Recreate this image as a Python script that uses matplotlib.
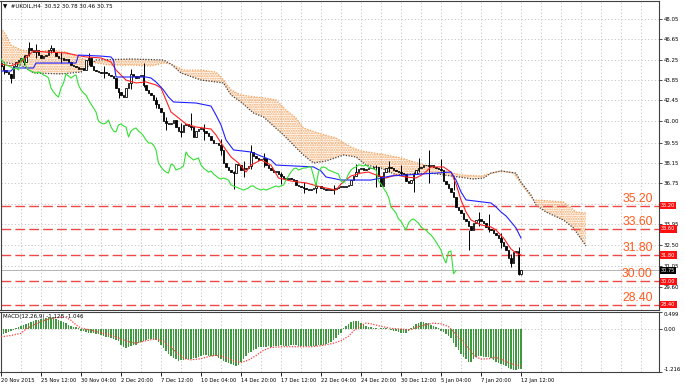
import matplotlib
matplotlib.use("Agg")
import matplotlib.pyplot as plt
import matplotlib.transforms as mtransforms
from matplotlib.patches import Polygon
import numpy as np

# ---- price data (H4 closes) ----
first_open = 45.00
closes = [
    44.82, 44.54, 44.40, 44.27, 43.99, 44.82, 45.09, 45.23, 45.37, 45.09,
    45.57, 46.05, 45.92, 45.78, 45.92, 45.57, 45.37, 45.50, 45.57, 45.92,
    46.05, 45.78, 45.50, 45.37, 45.37, 45.23,
    45.30, 45.09, 44.88, 44.82, 44.75, 44.61, 44.68, 44.54, 45.23, 45.37,
    44.82, 44.54, 44.47, 44.40, 44.34, 44.40, 44.34, 44.20, 44.13, 43.99,
    43.30, 43.03, 42.82, 42.68, 43.30, 43.65, 44.27, 44.13, 43.99, 44.13,
    44.20, 43.51, 43.17, 42.96, 42.82, 42.48, 42.20, 41.93, 41.65, 41.03,
    40.89, 40.83, 40.89, 41.10, 40.62, 40.34, 40.28, 40.76, 40.83, 40.69,
    40.62, 39.93, 40.34, 40.48, 40.55, 40.34, 40.21, 40.00, 39.73, 39.52,
    39.52, 39.38, 39.04, 38.14, 37.87, 37.66, 37.52, 37.45, 38.07, 38.00,
    37.66, 37.73, 37.80, 37.94, 38.90, 38.62, 38.49, 38.35, 38.42, 38.49,
    38.00, 37.80, 37.66, 37.52, 37.59, 37.39, 37.25, 37.11, 37.04, 37.11,
    37.04, 36.97, 36.63, 36.56, 36.49, 36.42, 36.35, 36.28, 36.35, 36.42,
    36.56, 36.56, 36.42, 36.35, 36.28, 36.35, 36.28, 36.35, 36.42, 36.49,
    36.56, 36.49, 36.56, 36.63, 36.97, 37.25, 37.52, 37.73, 37.80, 37.66,
    37.73, 37.80, 37.80, 37.87, 37.87, 37.25, 36.56, 37.52, 37.80, 37.87,
    37.80, 37.66, 37.59, 37.52, 37.45, 37.39, 36.90, 36.77, 36.97, 37.39,
    37.66, 37.80, 37.87, 38.00, 38.00, 37.94, 38.00, 37.87, 37.80, 37.73,
    37.66, 36.90, 36.70, 36.42, 36.15, 35.80, 35.12, 34.91, 34.70, 34.29,
    34.15, 33.81, 33.53, 34.01, 34.22, 34.29, 34.15, 34.01, 33.74, 33.60,
    33.53, 33.33, 33.19, 32.98, 32.71, 32.43, 32.16, 31.61, 31.26, 32.02,
    32.09, 30.52, 30.75,
]
# wicks that stand out: bar -> (high, low)
wicks = {
    1: (45.10, 44.30), 4: (44.30, 43.65), 9: (45.60, 44.90), 11: (46.47, 45.50),
    14: (46.30, 45.40), 20: (46.26, 45.70), 24: (45.80, 45.00), 35: (45.70, 44.90),
    41: (44.80, 44.00), 47: (43.10, 42.61), 52: (44.60, 43.20), 57: (45.02, 43.40),
    62: (42.70, 41.90), 66: (41.30, 40.40), 72: (40.90, 39.90), 76: (41.58, 40.40),
    81: (40.80, 39.70), 88: (39.80, 38.70), 93: (37.60, 36.35), 97: (38.30, 37.20),
    100: (39.38, 37.70), 105: (38.80, 37.90), 112: (37.50, 36.70), 121: (36.80, 36.10),
    126: (36.80, 36.10), 133: (36.60, 36.00), 142: (38.10, 37.40), 150: (38.00, 36.50),
    155: (38.30, 37.50), 160: (38.00, 37.30), 165: (37.50, 36.15), 167: (38.49, 37.50),
    171: (39.04, 36.77), 176: (38.40, 37.60), 181: (37.20, 36.30), 187: (33.50, 32.16),
    191: (34.80, 33.80), 195: (34.60, 33.40), 200: (33.30, 32.30), 204: (31.90, 31.00),
    207: (32.36, 30.46), 208: (30.78, 30.46),
}

# ---- Ichimoku lines (bar index, price) ----
tenkan_x = [0, 4, 8, 13, 18, 26, 30, 34, 40, 44, 46, 50, 54, 58, 62, 64, 66, 68, 70, 74,
            78, 84, 86, 88, 90, 92, 95, 98, 100, 104, 108, 111, 116, 122, 128, 134, 136,
            140, 144, 147, 150, 154, 158, 162, 166, 169, 172, 177, 180, 182, 184, 186,
            188, 192, 196, 198, 201, 204, 206, 208]
tenkan_y = [44.95, 44.82, 45.09, 45.85, 45.78, 45.71, 45.57, 45.44, 45.37, 45.09, 44.54,
            43.85, 43.65, 43.72, 43.51, 43.30, 42.48, 41.65, 41.38, 40.83, 40.62, 40.48,
            40.07, 39.52, 39.04, 38.56, 38.14, 37.52, 38.00, 38.35, 38.00, 37.11, 36.90,
            36.77, 36.49, 36.28, 36.70, 37.25, 37.45, 37.52, 37.32, 37.11, 37.32, 37.18,
            37.11, 37.39, 37.87, 37.87, 37.52, 36.70, 35.60, 34.77, 34.22, 33.88, 33.74,
            33.53, 32.98, 32.22, 31.95, 31.81]
kijun_x = [0, 4, 5, 13, 14, 30, 31, 40, 44, 45, 46, 58, 60, 62, 65, 67, 69, 78, 84, 86,
           88, 90, 93, 100, 104, 108, 110, 125, 128, 130, 136, 148, 156, 169, 180, 182,
           184, 186, 196, 198, 200, 202, 204, 206, 208]
kijun_y = [44.47, 44.47, 44.68, 44.68, 45.02, 45.02, 45.57, 45.50, 45.44, 45.23, 44.06,
           44.06, 43.99, 43.72, 43.17, 42.68, 42.34, 42.27, 42.06, 41.44, 40.76, 39.73,
           39.04, 38.90, 38.62, 38.35, 38.00, 37.87, 37.59, 37.18, 36.97, 36.97, 37.25,
           37.39, 37.52, 36.97, 36.15, 35.60, 35.39, 35.12, 34.77, 34.50, 34.09, 33.67,
           32.98]
span_a_x = [0, 2, 4, 8, 14, 20, 26, 32, 38, 44, 52, 60, 65, 68, 73, 80, 86, 89, 92, 96,
            102, 106, 110, 114, 118, 121, 128, 134, 140, 144, 152, 160, 168, 176, 184,
            192, 200, 205, 209, 212, 213, 220, 225, 230, 234]
span_a_y = [47.43, 46.95, 46.26, 45.92, 45.78, 45.92, 45.78, 45.37, 45.02, 44.88, 44.88,
            44.82, 45.02, 44.95, 44.54, 44.54, 44.40, 43.85, 43.17, 42.82, 42.68, 42.61,
            42.48, 41.79, 41.24, 40.55, 40.14, 39.86, 39.24, 38.97, 38.76, 38.49, 38.07,
            37.66, 37.32, 37.25, 37.59, 37.45, 36.49, 35.80, 35.60, 35.53, 35.46, 34.77,
            34.70]
span_b_x = [0, 8, 13, 24, 32, 38, 52, 65, 68, 72, 80, 89, 92, 96, 101, 105, 113, 121,
            125, 130, 137, 142, 146, 152, 158, 172, 180, 189, 193, 196, 200, 206, 208,
            212, 214, 218, 225, 229, 234]
span_b_y = [45.09, 44.88, 44.34, 44.27, 44.40, 45.23, 45.30, 45.23, 44.95, 44.34, 43.85,
            43.65, 42.82, 42.34, 41.58, 41.31, 40.07, 38.69, 38.14, 38.28, 38.69, 38.56,
            38.00, 37.80, 37.32, 37.45, 37.25, 37.04, 37.11, 37.45, 37.59, 37.45, 36.83,
            35.94, 35.25, 34.77, 34.22, 33.67, 32.43]

# ---- MACD(12,26,9) ----
macd = [
    -0.15, -0.13, -0.11, -0.09, -0.06, -0.02, 0.03, 0.06, 0.08, 0.12,
    0.15, 0.18, 0.21, 0.24, 0.25, 0.27, 0.28, 0.30, 0.32, 0.33,
    0.31, 0.33, 0.30, 0.27, 0.24, 0.20, 0.17, 0.13, 0.10, 0.07,
    0.05, 0.02, -0.04, -0.06, -0.08, -0.10, -0.11, -0.12, -0.14, -0.15,
    -0.17, -0.19, -0.21, -0.23, -0.25, -0.27, -0.30, -0.33, -0.45, -0.52,
    -0.54, -0.50, -0.47, -0.46, -0.44, -0.40, -0.36, -0.33, -0.30, -0.28,
    -0.27, -0.28, -0.30, -0.36, -0.45, -0.54, -0.62, -0.70, -0.76, -0.82,
    -0.86, -0.90, -0.89, -0.87, -0.86, -0.85, -0.84, -0.82, -0.81, -0.80,
    -0.76, -0.74, -0.74, -0.75, -0.75, -0.76, -0.77, -0.82, -0.86, -0.90,
    -0.94, -0.97, -1.00, -1.03, -1.05, -1.02, -0.92, -0.85, -0.76, -0.68,
    -0.64, -0.60, -0.55, -0.52, -0.51, -0.50, -0.51, -0.49, -0.50, -0.48,
    -0.47, -0.47, -0.46, -0.47, -0.48, -0.47, -0.46, -0.45, -0.46, -0.47,
    -0.48, -0.48, -0.47, -0.48, -0.49, -0.48, -0.47, -0.46, -0.45, -0.44,
    -0.42, -0.40, -0.37, -0.30, -0.24, -0.17, -0.10, 0.02, 0.10, 0.15,
    0.19, 0.22, 0.24, 0.23, 0.18, 0.14, 0.10, 0.07, 0.05, 0.03,
    0.02, 0.01, 0.02, 0.03, 0.02, 0.01, -0.02, -0.04, -0.06, -0.08,
    -0.10, -0.12, -0.10, -0.05, 0.02, 0.08, 0.14, 0.18, 0.20, 0.19,
    0.17, 0.16, 0.12, 0.10, 0.07, 0.04, -0.04, -0.09, -0.14, -0.20,
    -0.25, -0.40, -0.50, -0.60, -0.70, -0.78, -0.85, -0.92, -0.92, -0.85,
    -0.80, -0.77, -0.76, -0.78, -0.79, -0.80, -0.83, -0.88, -0.92, -0.95,
    -0.98, -1.02, -1.06, -1.10, -1.14, -1.16, -1.15, -1.13, -1.128,
]
signal_x = [0, 4, 8, 10, 13, 16, 20, 24, 26, 28, 30, 32, 36, 40, 44, 48, 51, 54, 56, 60,
            62, 65, 68, 71, 74, 76, 80, 83, 86, 90, 93, 96, 99, 102, 105, 108, 112, 120,
            124, 128, 133, 136, 139, 141, 144, 146, 148, 152, 156, 160, 164, 166, 170,
            173, 176, 179, 181, 184, 187, 189, 192, 195, 198, 201, 204, 206, 208]
signal_y = [-0.22, -0.18, -0.12, 0.0, 0.12, 0.22, 0.30, 0.34, 0.33, 0.25, 0.12, 0.03,
            -0.03, -0.10, -0.18, -0.28, -0.36, -0.40, -0.36, -0.30, -0.28, -0.35, -0.52,
            -0.72, -0.85, -0.87, -0.84, -0.78, -0.74, -0.80, -0.90, -0.95, -0.88, -0.75,
            -0.60, -0.52, -0.50, -0.50, -0.50, -0.47, -0.40, -0.33, -0.20, -0.05, 0.10,
            0.17, 0.15, 0.08, 0.02, 0.0, -0.02, 0.05, 0.13, 0.17, 0.15, 0.07, -0.08,
            -0.30, -0.55, -0.75, -0.85, -0.84, -0.80, -0.88, -0.98, -1.02, -1.046]

levels = [35.20, 33.60, 31.80, 30.00, 28.40]
# 35.35 sits under the 35.20 tag in the reference, so it only gets a grid line
price_ticks = [48.05, 46.65, 45.25, 43.85, 42.45, 41.00, 39.55, 38.15, 36.75,
               33.95, 32.50, 31.05, 29.60]
hidden_grid = [35.35]
date_labels = ["20 Nov 2015", "25 Nov 12:00", "30 Nov 04:00", "2 Dec 20:00", "7 Dec 12:00",
               "10 Dec 04:00", "14 Dec 20:00", "17 Dec 12:00", "22 Dec 04:00",
               "24 Dec 20:00", "30 Dec 12:00", "5 Jan 04:00", "7 Jan 20:00", "12 Jan 12:00"]
last_price = 30.75

plt.rcParams['font.family'] = ['DejaVu Sans']
plt.rcParams['hatch.linewidth'] = 1.0

W, H = 685, 387
fig = plt.figure(figsize=(W / 100, H / 100), dpi=100)
fig.patch.set_facecolor('white')

ax = fig.add_axes([0.5 / W, 1 - 309.5 / H, 658.5 / W, 308.5 / H])
ax2 = fig.add_axes([0.5 / W, 1 - 372 / H, 658.5 / W, 60.5 / H], sharex=ax)

bars = np.arange(len(closes))
closes = np.array(closes)
opens = np.concatenate([[first_open], closes[:-1]])
opens[-1] = 30.52

major_ticks = np.arange(0, 16 * len(date_labels), 16)
minor_ticks = np.arange(8, 264, 16)
grid_kw = dict(color='#c0c0c0', ls=(0, (1.5, 2.5)), lw=0.6)

# grid
for a in (ax, ax2):
    a.set_xticks(major_ticks)
    a.set_xticks(minor_ticks, minor=True)
    a.grid(True, which='both', **grid_kw)
    a.set_axisbelow(True)
    for s in a.spines.values():
        s.set_color('#404040')
        s.set_linewidth(0.8)
for xg in range(major_ticks[-1] + 16, 264, 16):
    for a in (ax, ax2):
        a.axvline(xg, zorder=0, **grid_kw)
for yg in hidden_grid:
    ax.axhline(yg, zorder=0, **grid_kw)

# cloud
cloud = Polygon(list(zip(span_a_x, span_a_y)) + list(zip(span_b_x, span_b_y))[::-1],
                closed=True, facecolor='none', edgecolor='#f4a460', hatch='.......',
                lw=0, zorder=1)
ax.add_patch(cloud)
ax.plot(span_a_x, span_a_y, color='#f4a460', ls=(0, (1, 1.2)), lw=0.9, zorder=2)
ax.plot(span_b_x, span_b_y, color='#404040', ls=(0, (1, 1.2)), lw=0.9, zorder=2)

# support / resistance levels
blend = mtransforms.blended_transform_factory(ax.transAxes, ax.transData)
for lv in levels:
    ax.axhline(lv, color='#f04848', lw=1.0, dashes=(7, 3), zorder=2)
    ax.text(0.9905, lv + 0.06, f"{lv:.2f}", transform=blend, ha='right', va='bottom',
            fontsize=8.8, color='#ff5a1e', family='Liberation Sans', zorder=5)
    ax.text(1.003, lv, f"{lv:.2f}", transform=blend, ha='left', va='center',
            fontsize=3.6, color='white', clip_on=False, zorder=6,
            bbox=dict(boxstyle='square,pad=0.25', fc='#ff1010', ec='none'))
ax.axhline(last_price, color='#a8a8a8', lw=0.6, zorder=2)
ax.text(1.003, last_price, f"{last_price:.2f}", transform=blend, ha='left', va='center',
        fontsize=3.6, color='white', clip_on=False, zorder=6,
        bbox=dict(boxstyle='square,pad=0.25', fc='black', ec='none'))

# candles
for b, (hi, lo) in wicks.items():
    ax.vlines(b, lo, hi, color='black', lw=0.7, zorder=3)
bull = closes >= opens
body_lo = np.minimum(opens, closes)
body_h = np.abs(closes - opens)
ax.bar(bars, body_h, bottom=body_lo, width=0.75,
       color=np.where(bull, 'white', 'black'), edgecolor='black', lw=0.6, zorder=3)

# ichimoku lines
ax.plot(tenkan_x, tenkan_y, color='#ff2020', lw=0.8, zorder=4)
ax.plot(kijun_x, kijun_y, color='#2020ff', lw=0.8, zorder=4)
ax.plot(bars[26:] - 26, closes[26:], color='#33e033', lw=0.8, zorder=4)

ax.set_xlim(-0.2, 263.2)
ax.set_ylim(28.06, 49.29)
ax.yaxis.tick_right()
ax.set_yticks(price_ticks)
ax.set_yticklabels([f"{t:.2f}" for t in price_ticks])
ax.tick_params(axis='y', labelsize=3.9, length=2, pad=1.5, width=0.5, colors='black')
ax.tick_params(axis='x', which='both', length=0, labelbottom=False)

ax.text(0.004, 0.993, "\u25bc  #UKOIL,H4  30.52 30.78 30.46 30.75", transform=ax.transAxes,
        ha='left', va='top', fontsize=4.0, color='black', zorder=7)

# MACD panel
ax2.bar(bars, macd, width=0.45, color='#3f9a3f', zorder=2)
ax2.plot(signal_x, signal_y, color='#ff3c3c', ls=(0, (1, 1.2)), lw=0.9, zorder=3)
ax2.set_ylim(-1.216, 0.499)
ax2.yaxis.tick_right()
ax2.set_yticks([0.499, 0.0, -1.216])
ax2.set_yticklabels(["0.499", "0.00", "-1.216"])
ax2.tick_params(axis='y', labelsize=3.9, length=2, pad=1.5, width=0.5)
tl = ax2.get_yticklabels()
tl[0].set_va('top')
tl[2].set_va('bottom')
ax2.set_xticklabels(date_labels, ha='left')
ax2.tick_params(axis='x', which='major', labelsize=3.75, length=3, pad=1.5, width=0.6)
ax2.tick_params(axis='x', which='minor', length=0)
ax2.text(0.004, 0.96, "MACD(12,26,9) -1.128 -1.046", transform=ax2.transAxes,
         ha='left', va='top', fontsize=4.0, color='black', zorder=7)

fig.savefig("out.png", dpi=100, facecolor='white')
